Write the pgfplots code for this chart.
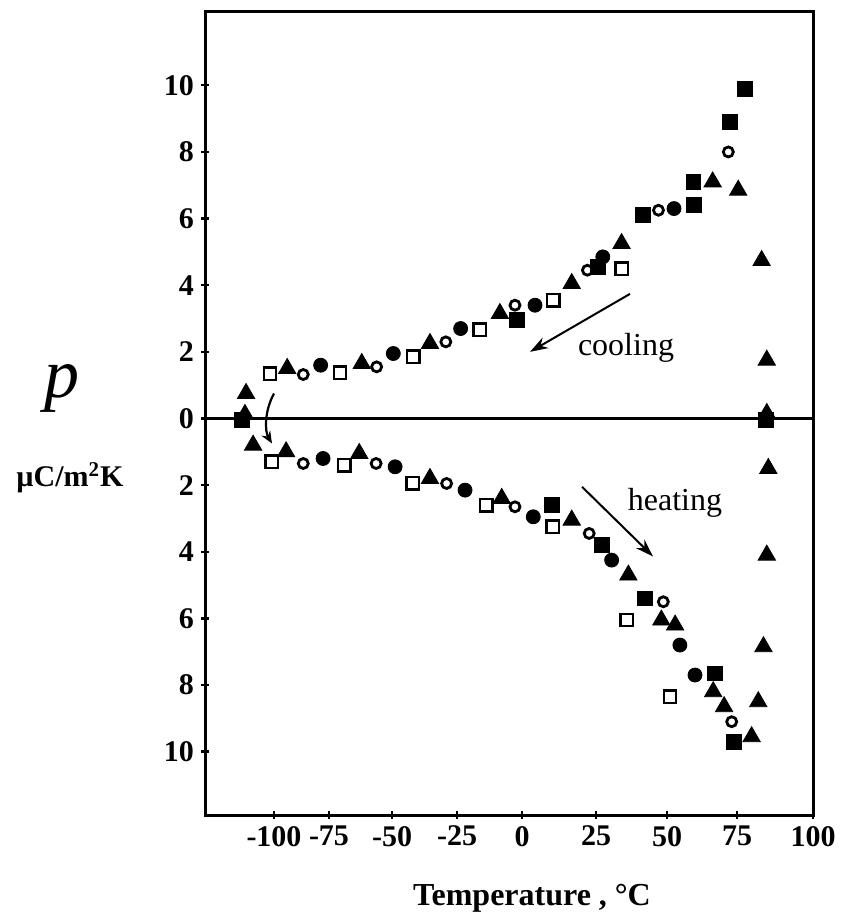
\documentclass[border=0pt]{standalone}
\usepackage{fontspec}
\setmainfont{Liberation Serif}
\usepackage{pgfplots}
\pgfplotsset{compat=1.18}
\usetikzlibrary{arrows.meta}

\begin{document}
\begin{tikzpicture}
\begin{axis}[
  scale only axis, width=304pt, height=401.5pt,
  xmin=205, xmax=813, ymin=-11.9, ymax=12.2,
  % temperature -> position along the printed axis (its ticks are unevenly spaced)
  x filter/.expression={x<(-75) ? 274+(x+100)*2.2 : (x<(-50) ? 329+(x+75)*2.52 : (x<(-25) ? 392+(x+50)*2.6 : (x<0 ? 457+(x+25)*2.6 : (x<25 ? 522+x*2.96 : (x<50 ? 596+(x-25)*2.84 : (x<75 ? 667+(x-50)*2.8 : 737+(x-75)*3.04))))))},
  axis line style={line width=1.5pt},
  xtick={274,329,392,457,522,596,667,737,813},
  xticklabels={-100,-75,-50,-25,0,25,50,75,100},
  ytick={-10,-8,-6,-4,-2,0,2,4,6,8,10},
  yticklabels={10,8,6,4,2,0,2,4,6,8,10},
  xtick pos=bottom, ytick pos=left,
  tick align=center, major tick length=4pt,
  tick style={line width=1.2pt, black},
  ticklabel style={font=\bfseries\fontsize{15}{18}\selectfont},
]
\draw[line width=1.1pt] (axis cs:205,0) -- (axis cs:813,0);

% filled triangles
\addplot[only marks, black, mark=triangle*, mark size=5pt] coordinates {
(-112.7,0.75) (-113.2,0.12) (-109.5,-0.8) (-94.0,1.5) (-62.0,1.65) (-35.4,2.25)
(-8.5,3.15) (16.8,4.05) (34.0,5.25) (66.3,7.1) (75.4,6.85) (83.1,4.74) (84.8,1.75) (84.8,0.15)
(-94.5,-1.0) (-63.0,-1.05) (-35.4,-1.8) (-7.8,-2.4) (16.8,-3.05) (36.4,-4.7) (48.0,-6.05)
(52.9,-6.2) (66.5,-8.2) (70.4,-8.65) (79.8,-9.55) (85.3,-1.5) (84.8,-4.1) (83.7,-6.85) (82.0,-8.5)
};
% filled circles
\addplot[only marks, black, mark=*, mark size=3.5pt] coordinates {
(-78.8,1.6) (-49.5,1.95) (-23.6,2.7) (4.4,3.4) (27.4,4.85) (52.5,6.3)
(-77.7,-1.2) (-48.8,-1.45) (-21.9,-2.15) (3.8,-2.95) (30.5,-4.25) (54.6,-6.8) (60.0,-7.7)
};
% open circles
\addplot[only marks, black, mark=o, mark size=2.5pt, mark options={line width=1.4pt}] coordinates {
(-86.7,1.32) (-56.1,1.55) (-29.3,2.3) (-2.7,3.4) (22.1,4.45) (47.0,6.25) (71.9,8.0)
(-86.7,-1.35) (-56.3,-1.35) (-29.0,-1.95) (-2.7,-2.65) (22.7,-3.45) (48.7,-5.5) (73.1,-9.1)
};
% open squares
\addplot[only marks, black, mark=square, mark size=3.1pt, mark options={line width=1.2pt}] coordinates {
(-101.8,1.35) (-70.6,1.38) (-41.8,1.85) (-16.2,2.67) (10.6,3.55) (34.0,4.5)
(-101.0,-1.3) (-69.0,-1.4) (-42.0,-1.95) (-13.8,-2.6) (10.4,-3.25) (35.8,-6.05) (51.1,-8.35)
};
% filled squares
\addplot[only marks, black, mark=square*, mark size=3.7pt] coordinates {
(-114.7,-0.05) (-2.0,2.95) (25.8,4.55) (41.6,6.1) (59.6,6.4) (59.4,7.1) (72.5,8.9) (77.6,9.9) (84.5,-0.05)
(10.0,-2.6) (27.0,-3.8) (42.3,-5.4) (67.1,-7.65) (73.8,-9.7)
};

\draw[line width=1pt, -{Stealth[length=9pt,width=6pt]}] (axis cs:630,3.74) -- (axis cs:530,2.0);
\node[anchor=base, font=\fontsize{16}{18}\selectfont] at (axis cs:626,1.9) {cooling};
\draw[line width=1pt, -{Stealth[length=9pt,width=6pt]}] (axis cs:582,-2.05) -- (axis cs:653,-4.14);
\node[anchor=base, font=\fontsize{16}{18}\selectfont] at (axis cs:675,-2.75) {heating};
\draw[line width=1.1pt, -{Stealth[length=6pt,width=5pt]}] (axis cs:274,0.75) .. controls (axis cs:264,0.2) and (axis cs:265,-0.4) .. (axis cs:272,-0.75);
\end{axis}

\node[anchor=base, font=\itshape\fontsize{35}{38}\selectfont] at ([shift={(-71.5pt,208.5pt)}]current axis.south west) {p};
\node[anchor=base, font=\bfseries\fontsize{15}{18}\selectfont] at ([shift={(-67.5pt,164pt)}]current axis.south west) {µC/m\textsuperscript{2}K};
\node[anchor=base, font=\bfseries\fontsize{16}{19}\selectfont] at ([shift={(163.5pt,-45pt)}]current axis.south west) {Temperature , °C};
\path ([shift={(-102.5pt,407.5pt)}]current axis.south west) rectangle ([shift={(319pt,-52pt)}]current axis.south west);
\end{tikzpicture}
\end{document}
